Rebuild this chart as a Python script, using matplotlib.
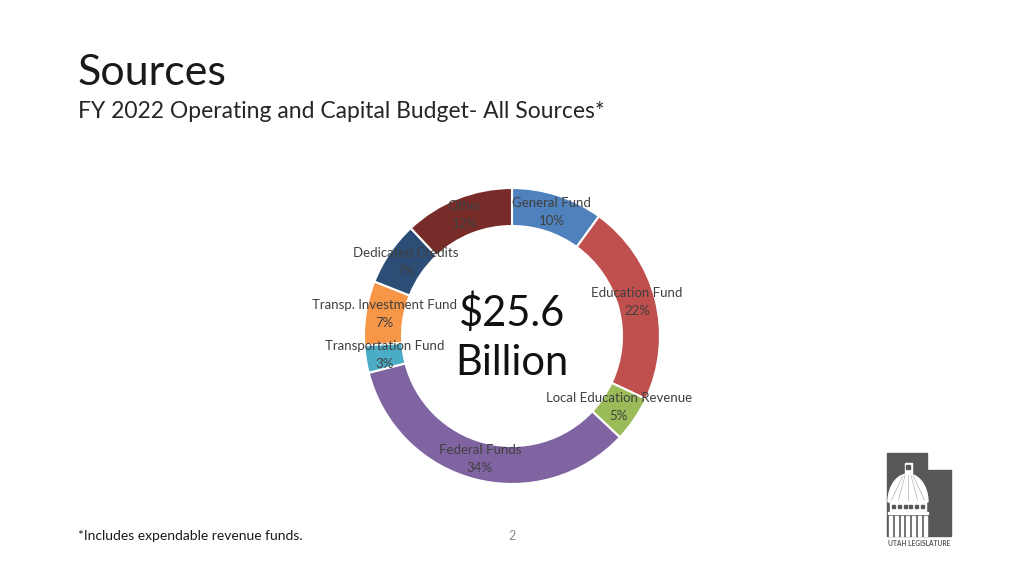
import numpy as np
import matplotlib.pyplot as plt
from matplotlib.patches import Polygon, Rectangle

plt.rcParams['font.family'] = ['Lato', 'DejaVu Sans']

# data
sources = ['General Fund', 'Education Fund', 'Local Education Revenue', 'Federal Funds',
           'Transportation Fund', 'Transp. Investment Fund', 'Dedicated Credits', 'Other']
shares = [10, 22, 5, 34, 3, 7, 7, 12]
colors = ['#4F81BD', '#C0504D', '#9BBB59', '#8064A2', '#4BACC6', '#F79646', '#2C4D75', '#772C2A']

W, H = 1024, 576
fig = plt.figure(figsize=(W / 100, H / 100), dpi=100)

# title block
fig.text(78 / W, 1 - 73 / H, 'Sources', fontsize=31, color='#1a1a1a', va='center')
fig.text(78 / W, 1 - 111 / H, 'FY 2022 Operating and Capital Budget- All Sources*',
         fontsize=16.5, color='#262626', va='center')
fig.text(78 / W, 1 - 536 / H, '*Includes expendable revenue funds.', fontsize=10,
         color='#1a1a1a', va='center')
fig.text(512 / W, 1 - 536 / H, '2', fontsize=9, color='#8c8c8c', va='center', ha='center')

# donut
cx, cy, R = 512, 336, 148
box = 400
ax = fig.add_axes([(cx - box / 2) / W, (H - cy - box / 2) / H, box / W, box / H])

width = 38 / R
wedges, _ = ax.pie(shares, colors=colors, startangle=90, counterclock=False,
                   radius=1, wedgeprops=dict(width=width, edgecolor='white', linewidth=1.5))
lim = box / 2 / R
ax.set_xlim(-lim, lim)
ax.set_ylim(-lim, lim)
ax.set_aspect('equal')
ax.axis('off')

mid_r = 1 - width / 2
for w, name, s in zip(wedges, sources, shares):
    ang = np.deg2rad((w.theta1 + w.theta2) / 2)
    ax.text(mid_r * np.cos(ang), mid_r * np.sin(ang) + 0.01, f'{name}\n{s}%', ha='center',
            va='center', fontsize=9.5, color='#404040', linespacing=1.6)

ax.text(0, 0.155, '$25.6', ha='center', va='center', fontsize=30, color='#111111')
ax.text(0, -0.185, 'Billion', ha='center', va='center', fontsize=30, color='#111111')

# Utah Legislature logo
lg = fig.add_axes([880 / W, 1 - 552 / H, 80 / W, 104 / H])
lg.set_xlim(880, 960)
lg.set_ylim(552, 448)
lg.axis('off')
gray = '#58585a'
lg.add_patch(Polygon([(887, 453), (927, 453), (927, 470), (951, 470), (951, 536), (887, 536)],
                     closed=True, color=gray))
t = np.linspace(0, np.pi, 40)
lg.add_patch(Polygon(np.column_stack([908 + 20 * np.cos(t), 502 - 28 * np.sin(t)]),
                     closed=True, color='white'))
lg.add_patch(Rectangle((904.5, 463), 7, 11, color='white'))
lg.add_patch(Rectangle((906, 465), 4, 4, color=gray))
for k in range(5):
    tt = np.pi * (k + 1) / 6
    lg.plot([908 + 6 * np.cos(tt), 908 + 19 * np.cos(tt)],
            [475 + 2 * (1 - np.sin(tt)), 502 - 2], color='#b0b0b0', lw=0.5)
lg.add_patch(Rectangle((890, 502), 36, 9, color='white'))
for i in range(6):
    lg.add_patch(Rectangle((892 + i * 5.8, 505), 3, 3, color=gray))
lg.add_patch(Rectangle((888, 512), 40, 2.5, color='white'))
for i in range(7):
    lg.add_patch(Rectangle((889 + i * 5.8, 516), 2.8, 20, color='white'))
lg.text(919, 544, 'UTAH LEGISLATURE', ha='center', va='center', fontsize=4.8,
        fontweight='bold', color=gray)

fig.savefig('out.png', dpi=100)
